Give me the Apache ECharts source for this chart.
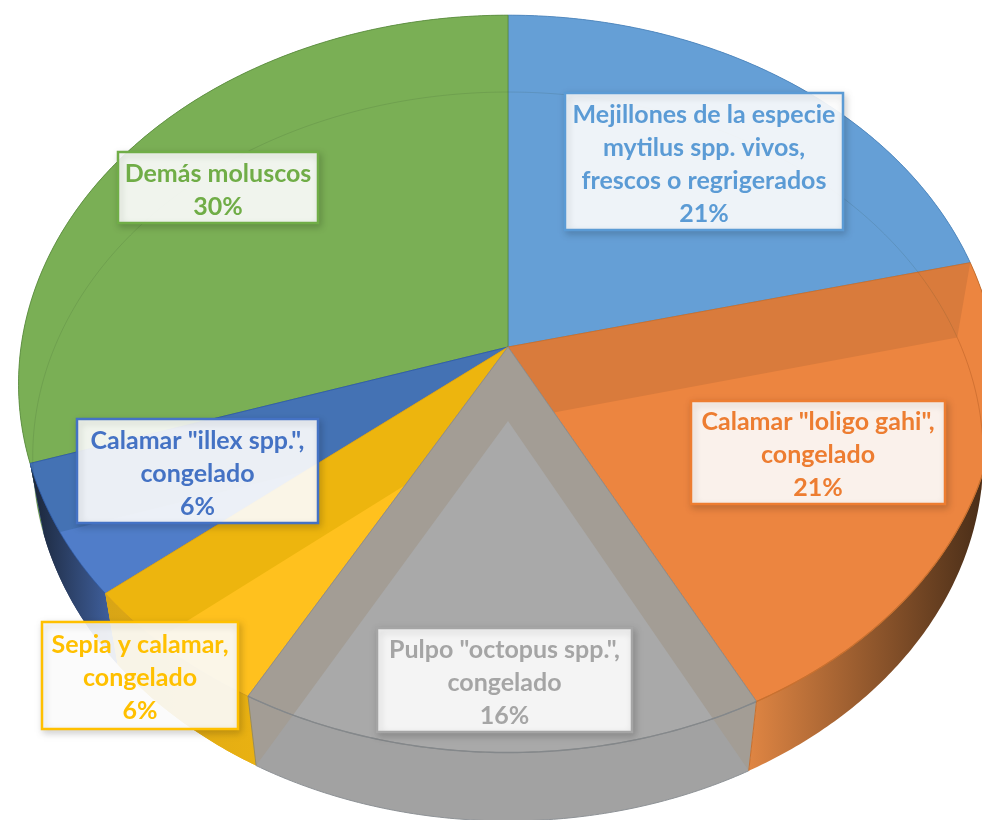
<!DOCTYPE html>
<html>
<head>
<meta charset="utf-8">
<style>html,body{margin:0;padding:0;background:#fff}#c{width:982px;height:820px}</style>
<script src="https://cdn.jsdelivr.net/npm/echarts@6/dist/echarts.min.js"></script>
</head>
<body>
<div id="c"></div>
<script>
// --- data ---
const categories = [
  'Mejillones de la especie\nmytilus spp. vivos,\nfrescos o regrigerados',
  'Calamar "loligo gahi",\ncongelado',
  'Pulpo "octopus spp.",\ncongelado',
  'Sepia y calamar,\ncongelado',
  'Calamar "illex spp.",\ncongelado',
  'Demás moluscos'
];
const values = [21.2, 21.1, 15.8, 6.0, 5.9, 30.0];

// --- styles ---
const labelColors = ['#5B9BD5', '#ED7D31', '#A5A5A5', '#FFC000', '#4472C4', '#70AD47'];
const faceColors  = ['#659FD6', '#EC8540', '#A9A9A9', '#FFC11E', '#507DC9', '#7AAF55'];
const bandColors  = ['#659FD6', '#D97B3C', '#A39D95', '#EDB50E', '#4472B4', '#7AAF55'];
const edgeColors  = ['#4F86BC', '#C8702F', '#8E8B88', '#D9A21A', '#2F5CA8', '#5E8F42'];
const wallStops = [
  ['#4F86BC', '#4F86BC', 0, 982],
  ['#DF8543', '#4A2E18', 750, 982],
  ['#A2A2A2', '#A2A2A2', 250, 755],
  ['#D8A516', '#E9B112', 105, 255],
  ['#1B2639', '#3F5F9C', 32, 110],
  ['#5E8F42', '#5E8F42', 0, 508]
];
// paint order, back to front
const paintOrder = [0, 5, 1, 4, 3, 2];
// label boxes: left, top, right, bottom
const labelBoxes = [
  [565, 93, 843, 230],
  [691, 401, 945, 504],
  [377, 628, 632, 732],
  [42, 622, 238, 729],
  [77, 419, 318, 523],
  [118, 152, 318, 223]
];

// --- perspective projection of the pie disc ---
const topDisc = {cx: 508, cy: 347, rx: 487, ry: 365, k: 0.1};
const botDisc = {cx: 508, cy: 421, rx: 473, ry: 361, k: 0.0974};
const total = values.reduce((a, b) => a + b, 0);
const cum = [0];
values.forEach((v, i) => cum.push(cum[i] + v));
const angleAt = i => cum[i] / total * Math.PI * 2;
function proj(d, a) {
  const s = 1 / (1 + d.k * Math.cos(a));
  return [d.cx + d.rx * Math.sin(a) * s, d.cy - d.ry * Math.cos(a) * s];
}
function arc(d, a0, a1) {
  const n = Math.max(2, Math.ceil(Math.abs(a1 - a0) / 0.01));
  const pts = [];
  for (let j = 0; j <= n; j++) pts.push(proj(d, a0 + (a1 - a0) * j / n));
  return pts;
}
const centre = d => [d.cx, d.cy];
const poly = (points, style) => ({type: 'polygon', shape: {points}, style});
const line = (points, style) => ({type: 'polyline', shape: {points}, style: Object.assign({fill: null}, style)});
function band(a) {
  return [centre(topDisc), proj(topDisc, a), proj(botDisc, a), centre(botDisc)];
}
const seriesData = paintOrder.map(i => [i]);

function wallShape(i) {
  const a0 = angleAt(i), a1 = angleAt(i + 1), w = wallStops[i];
  const fill = {type: 'linear', global: true, x: w[2], y: 0, x2: w[3], y2: 0,
    colorStops: [{offset: 0, color: w[0]}, {offset: 1, color: w[1]}]};
  return poly(arc(topDisc, a0, a1).concat(arc(botDisc, a1, a0)), {fill, stroke: null});
}
function renderWall(params, api) {
  return {type: 'group', children: [wallShape(api.value(0))]};
}
function renderFace(params, api) {
  const i = api.value(0), a0 = angleAt(i), a1 = angleAt(i + 1);
  const kids = [];
  const pts = [centre(topDisc)].concat(arc(topDisc, a0, a1));
  kids.push(poly(pts, {fill: faceColors[i], stroke: null}));
  if (a0 < Math.PI && a0 > 0) kids.push(poly(band(a0), {fill: bandColors[i], stroke: null}));
  if (a1 > Math.PI && a1 < 2 * Math.PI - 0.001) kids.push(poly(band(a1), {fill: bandColors[i], stroke: null}));
  // outer wall stays in front of the inner band on the left-hand slices
  if (i === 3 || i === 4) kids.push(wallShape(i));
  kids.push(poly(pts, {fill: 'none', stroke: edgeColors[i], lineWidth: 1, opacity: 0.9}));
  return {type: 'group', children: kids};
}
function renderDetail(params, api) {
  const i = api.value(0), a0 = angleAt(i), a1 = angleAt(i + 1);
  const kids = [];
  // the lower rim seen through the top
  if (i === 0 || i === 5) {
    kids.push(line(arc(botDisc, a0, a1), {stroke: 'rgba(40,60,40,0.13)', lineWidth: 1}));
  }
  if (i === 1) kids.push(line(arc(botDisc, a0, Math.PI * 0.56), {stroke: 'rgba(150,70,20,0.3)', lineWidth: 1}));
  if (i === 2) {
    // the gray front rim and its wall ends
    kids.push(line(arc(topDisc, a0, a1), {stroke: '#84888B', lineWidth: 1.4}));
    kids.push(line(arc(botDisc, a0, a1), {stroke: '#8E9296', lineWidth: 1}));
    kids.push(line([proj(topDisc, a0), proj(botDisc, a0)], {stroke: '#C8702F', lineWidth: 1}));
    kids.push(line([proj(topDisc, a1), proj(botDisc, a1)], {stroke: '#9A8C5A', lineWidth: 1}));
  }
  if (i === 1) kids.push(line(arc(topDisc, Math.PI * 0.5, a1), {stroke: '#C8702F', lineWidth: 1.2}));
  return {type: 'group', children: kids};
}
function renderLabel(params, api) {
  const i = api.value(0), b = labelBoxes[i];
  const text = categories[i] + '\n' + Math.round(values[i]) + '%';
  return {type: 'group', children: [
    {type: 'rect', shape: {x: b[0], y: b[1], width: b[2] - b[0], height: b[3] - b[1]},
     style: {fill: 'rgba(255,255,255,0.9)', stroke: labelColors[i], lineWidth: 2.5,
             shadowBlur: 7, shadowOffsetX: 2, shadowOffsetY: 3, shadowColor: 'rgba(0,0,0,0.18)'}},
    {type: 'text', style: {text, x: (b[0] + b[2]) / 2, y: (b[1] + b[3]) / 2 + 2.5,
      align: 'center', verticalAlign: 'middle', fontFamily: 'Lato', fontWeight: 'bold',
      fontSize: 25, lineHeight: 33, fill: labelColors[i]}}
  ]};
}
const layer = renderItem => ({type: 'custom', coordinateSystem: 'none', silent: true, clip: false, animation: false, renderItem, data: seriesData});

const chart = echarts.init(document.getElementById('c'), null, {renderer: 'canvas'});
chart.setOption({
  backgroundColor: '#ffffff',
  animation: false,
  series: [layer(renderWall), layer(renderFace), layer(renderDetail), layer(renderLabel)]
});
</script>
</body>
</html>
